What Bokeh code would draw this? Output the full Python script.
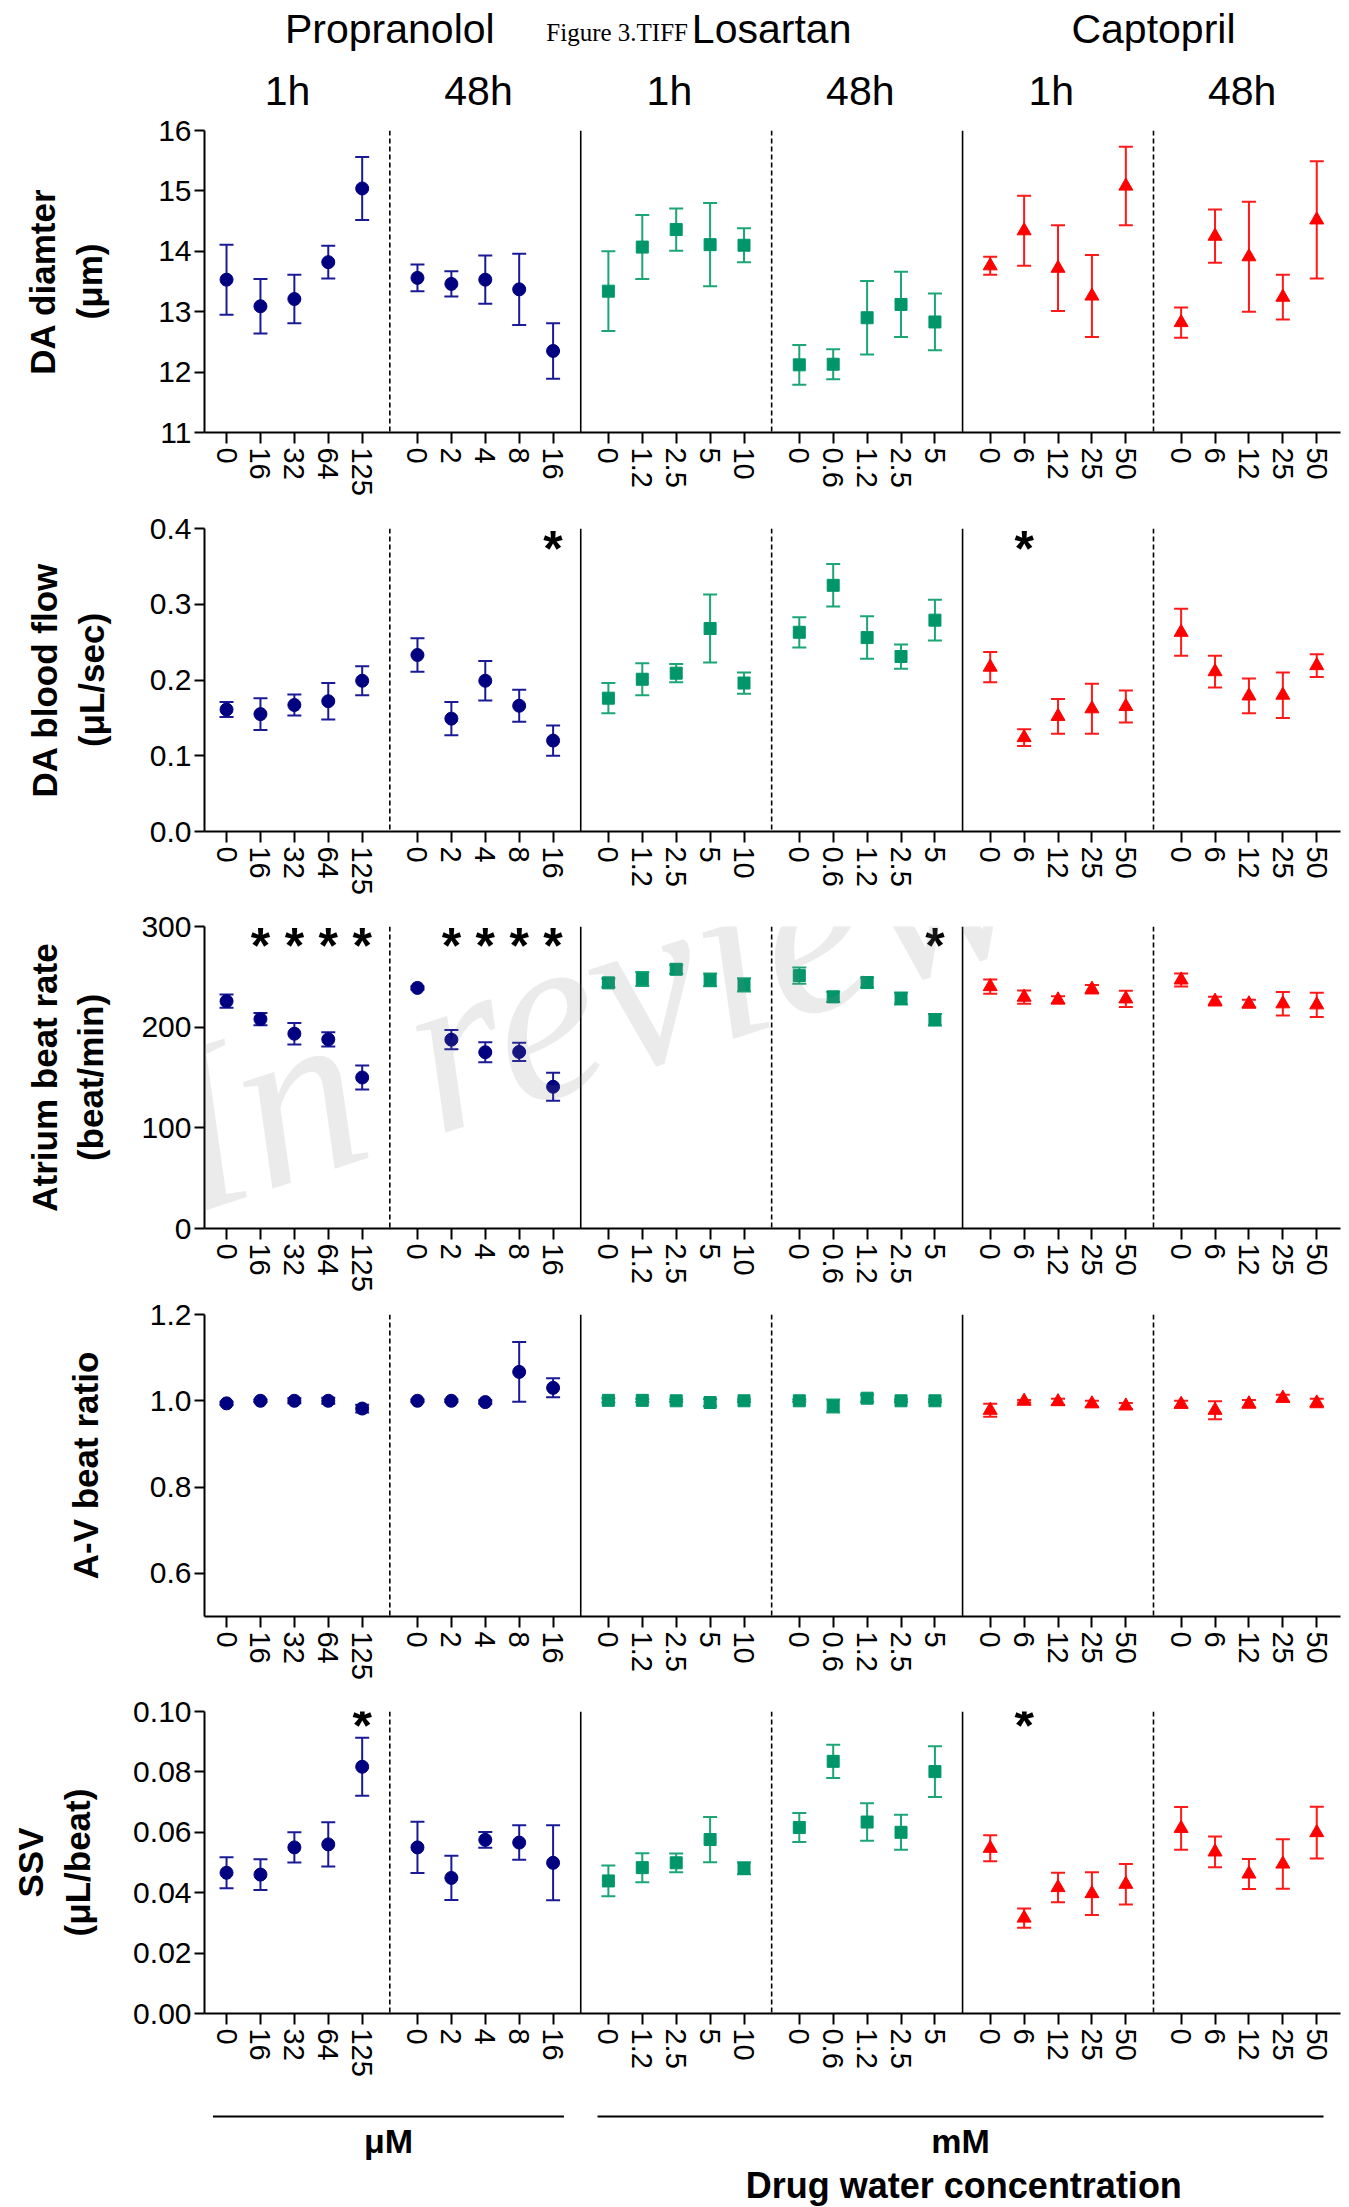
import math
from bokeh.plotting import figure
from bokeh.models import (Range1d, FixedTicker, ColumnDataSource, Whisker, TeeHead,
                          Span, Label, PrintfTickFormatter)
from bokeh.layouts import column
from bokeh.embed import file_html
from bokeh.resources import INLINE

# ---------------- data ----------------
drugs = ["Propranolol", "Losartan", "Captopril"]
times = ["1h", "48h"]
conc_labels = [
    ["0", "16", "32", "64", "125"],
    ["0", "2", "4", "8", "16"],
    ["0", "1.2", "2.5", "5", "10"],
    ["0", "0.6", "1.2", "2.5", "5"],
    ["0", "6", "12", "25", "50"],
    ["0", "6", "12", "25", "50"],
]
unit_labels = ["μM", "mM"]

diam_mean = [
    [13.53, 13.09, 13.21, 13.82, 15.04],
    [13.56, 13.46, 13.53, 13.37, 12.35],
    [13.34, 14.07, 14.36, 14.11, 14.10],
    [12.12, 12.13, 12.90, 13.12, 12.83],
    [13.76, 14.34, 13.72, 13.26, 15.08],
    [12.82, 14.25, 13.91, 13.24, 14.52],
]
diam_sem = [
    [0.58, 0.45, 0.40, 0.27, 0.52],
    [0.22, 0.21, 0.40, 0.59, 0.46],
    [0.66, 0.53, 0.35, 0.69, 0.28],
    [0.33, 0.25, 0.61, 0.54, 0.47],
    [0.15, 0.58, 0.71, 0.68, 0.65],
    [0.25, 0.44, 0.91, 0.37, 0.97],
]
diam_stars = []

flow_mean = [
    [0.161, 0.155, 0.167, 0.172, 0.199],
    [0.233, 0.149, 0.199, 0.166, 0.120],
    [0.176, 0.201, 0.209, 0.268, 0.196],
    [0.263, 0.325, 0.256, 0.231, 0.279],
    [0.217, 0.124, 0.152, 0.162, 0.165],
    [0.263, 0.211, 0.179, 0.180, 0.219],
]
flow_sem = [
    [0.010, 0.021, 0.014, 0.024, 0.019],
    [0.022, 0.022, 0.026, 0.021, 0.020],
    [0.020, 0.021, 0.012, 0.045, 0.014],
    [0.020, 0.028, 0.028, 0.016, 0.027],
    [0.020, 0.011, 0.023, 0.033, 0.021],
    [0.031, 0.021, 0.023, 0.030, 0.015],
]
flow_stars = [(1, 4), (4, 1)]

rate_mean = [
    [225.8, 208.0, 193.5, 187.9, 150.0],
    [239.0, 187.6, 175.1, 175.4, 140.8],
    [244.0, 247.9, 257.5, 246.9, 242.0],
    [251.2, 230.1, 244.3, 228.5, 207.4],
    [240.3, 229.8, 227.1, 237.7, 228.1],
    [246.9, 225.8, 223.2, 223.2, 222.2],
]
rate_sem = [
    [6.6, 6.0, 10.7, 7.0, 12.0],
    [1.5, 9.6, 10.0, 9.0, 14.0],
    [4.4, 7.0, 4.5, 6.3, 6.6],
    [8.0, 5.0, 5.0, 6.0, 5.8],
    [7.0, 6.5, 3.6, 4.2, 8.0],
    [6.5, 4.3, 4.0, 11.7, 12.0],
]
rate_stars = [(0, 1), (0, 2), (0, 3), (0, 4), (1, 1), (1, 2), (1, 3), (1, 4), (3, 4)]

ratio_mean = [
    [0.994, 1.000, 1.000, 1.000, 0.982],
    [1.000, 1.000, 0.997, 1.067, 1.030],
    [1.001, 1.001, 1.000, 0.996, 1.000],
    [1.000, 0.988, 1.006, 1.000, 1.000],
    [0.978, 0.999, 0.998, 0.993, 0.988],
    [0.992, 0.978, 0.993, 1.006, 0.995],
]
ratio_sem = [
    [0.004, 0.003, 0.006, 0.007, 0.009],
    [0.003, 0.003, 0.004, 0.069, 0.022],
    [0.005, 0.004, 0.003, 0.008, 0.003],
    [0.003, 0.015, 0.008, 0.003, 0.003],
    [0.015, 0.003, 0.007, 0.007, 0.007],
    [0.008, 0.021, 0.009, 0.008, 0.010],
]
ratio_stars = []

ssv_mean = [
    [0.0466, 0.0460, 0.0550, 0.0560, 0.0817],
    [0.0550, 0.0449, 0.0575, 0.0566, 0.0499],
    [0.0439, 0.0483, 0.0499, 0.0576, 0.0481],
    [0.0616, 0.0835, 0.0634, 0.0600, 0.0801],
    [0.0547, 0.0316, 0.0417, 0.0397, 0.0428],
    [0.0613, 0.0535, 0.0462, 0.0495, 0.0599],
]
ssv_sem = [
    [0.0051, 0.0051, 0.0050, 0.0073, 0.0096],
    [0.0085, 0.0073, 0.0026, 0.0057, 0.0124],
    [0.0051, 0.0048, 0.0031, 0.0075, 0.0020],
    [0.0048, 0.0055, 0.0062, 0.0058, 0.0084],
    [0.0043, 0.0032, 0.0049, 0.0071, 0.0067],
    [0.0071, 0.0051, 0.0050, 0.0082, 0.0086],
]
ssv_stars = [(0, 4), (4, 1)]

# ---------------- style / layout ----------------
W = 1349
LEFT = 200
FRAME_W = 1140
GROUP_STEP = 563
PT_STEP = 100
X0, X1 = -65, 3285
FONT = "Liberation Sans"

marker_color = ["#000080", "#00966a", "#ff0000"]
bar_color = ["#1a1a96", "#1ba673", "#ff1a1a"]
markers = ["circle", "square", "triangle"]
marker_size = [13, 12, 14]


def xpos(g, i):
    return g * GROUP_STEP + i * PT_STEP


def px2x(px, left=LEFT):
    return X0 + (px - left) / FRAME_W * (X1 - X0)


ticks = [xpos(g, i) for g in range(6) for i in range(5)]
overrides = {xpos(g, i): conc_labels[g][i] for g in range(6) for i in range(5)}


def make_row(mean, sem, stars, ylab, ymin, ymax, yticks, fmt, top, frame_h, bottom,
             standoff, left=LEFT, star_px=22, watermark=False):
    h = top + frame_h + bottom
    p = figure(width=W, height=h, x_range=Range1d(X0, X1), y_range=Range1d(ymin, ymax),
               output_backend="svg", toolbar_location=None, title=None,
               min_border_left=left, min_border_right=W - left - FRAME_W,
               min_border_top=top, min_border_bottom=bottom)
    p.grid.visible = False
    p.outline_line_color = None
    p.background_fill_color = "white"
    p.border_fill_color = "white"

    # x axis
    xa = p.xaxis[0]
    xa.ticker = FixedTicker(ticks=ticks)
    xa.major_label_overrides = overrides
    xa.major_label_orientation = "vertical"
    xa.major_label_text_font = FONT
    xa.major_label_text_font_size = "29px"
    xa.major_label_text_color = "black"
    xa.major_label_standoff = 4
    xa.major_tick_out = 11
    xa.major_tick_in = 0
    xa.minor_tick_out = 0
    xa.minor_tick_in = 0
    xa.axis_line_width = 2
    xa.major_tick_line_width = 2
    xa.axis_line_color = "black"
    xa.major_tick_line_color = "black"

    # y axis
    ya = p.yaxis[0]
    ya.ticker = FixedTicker(ticks=yticks)
    ya.formatter = PrintfTickFormatter(format=fmt)
    ya.major_label_text_font = FONT
    ya.major_label_text_font_size = "30px"
    ya.major_label_text_color = "black"
    ya.major_label_standoff = 3
    ya.major_tick_out = 10
    ya.major_tick_in = 0
    ya.minor_tick_out = 0
    ya.minor_tick_in = 0
    ya.axis_line_width = 2
    ya.major_tick_line_width = 2
    ya.axis_line_color = "black"
    ya.major_tick_line_color = "black"
    ya.axis_label = ylab
    ya.axis_label_text_font = FONT
    ya.axis_label_text_font_style = "bold"
    ya.axis_label_text_font_size = "35px"
    ya.axis_label_text_color = "black"
    ya.axis_label_standoff = standoff

    # separators
    for g in range(5):
        loc = xpos(g, 4) + (GROUP_STEP - 4 * PT_STEP) / 2
        dashed = g in (0, 2, 4)
        p.add_layout(Span(location=loc, dimension="height", line_color="black",
                          line_width=1.6, line_dash="5 3" if dashed else "solid"))

    # data
    for g in range(6):
        d = g // 2
        xs = [xpos(g, i) for i in range(5)]
        ys = mean[g]
        up = [m + s for m, s in zip(mean[g], sem[g])]
        lo = [m - s for m, s in zip(mean[g], sem[g])]
        src = ColumnDataSource(dict(x=xs, y=ys, upper=up, lower=lo))
        wh = Whisker(source=src, base="x", upper="upper", lower="lower", dimension="height",
                     line_color=bar_color[d], line_width=2,
                     upper_head=TeeHead(size=14, line_color=bar_color[d], line_width=2),
                     lower_head=TeeHead(size=14, line_color=bar_color[d], line_width=2))
        p.add_layout(wh)
        p.scatter("x", "y", source=src, marker=markers[d], size=marker_size[d],
                  fill_color=marker_color[d], line_color=marker_color[d])

    sy = ymax - star_px / frame_h * (ymax - ymin)
    for g, i in stars:
        p.add_layout(Label(x=xpos(g, i), y=sy, text="*", text_font=FONT,
                           text_font_style="bold", text_font_size="50px",
                           text_align="center", text_baseline="middle",
                           text_color="black"))

    if watermark:
        wm = Label(x=px2x(158), y=ymin + (ymax - ymin) * 90 / frame_h, text="In review",
                   angle=math.radians(18), text_font="Liberation Serif",
                   text_font_style="italic", text_font_size="241px",
                   text_align="left", text_baseline="alphabetic",
                   text_color="#808080", text_alpha=0.16, level="overlay")
        p.add_layout(wm)
    return p


TOP_H = 112
top = figure(width=W, height=TOP_H, x_range=Range1d(X0, X1), y_range=Range1d(TOP_H, 0),
             output_backend="svg", toolbar_location=None, title=None,
             x_axis_type=None, y_axis_type=None,
             min_border_left=LEFT, min_border_right=W - LEFT - FRAME_W,
             min_border_top=0, min_border_bottom=0)
top.grid.visible = False
top.outline_line_color = None
for d in range(3):
    cx = xpos(2 * d, 4) + (GROUP_STEP - 4 * PT_STEP) / 2
    top.add_layout(Label(x=cx, y=28, text=drugs[d], text_align="center",
                         text_baseline="middle", text_font=FONT,
                         text_font_size="41px", text_color="black"))
for g in range(6):
    cx = xpos(g, 2) - 20
    top.add_layout(Label(x=cx, y=90, text=times[g % 2], text_align="center",
                         text_baseline="middle", text_font=FONT,
                         text_font_size="41px", text_color="black"))
top.add_layout(Label(x=px2x(543), y=32, text="Figure 3.TIFF", text_align="left",
                     text_baseline="middle", text_font="Liberation Serif",
                     text_font_size="25px", text_color="black"))

r1 = make_row(diam_mean, diam_sem, diam_stars, "DA diamter\n(μm)", 11, 16,
              [11, 12, 13, 14, 15, 16], "%d", 18, 302, 66, 46)
r2 = make_row(flow_mean, flow_sem, flow_stars, "DA blood flow\n(μL/sec)", 0, 0.4,
              [0, 0.1, 0.2, 0.3, 0.4], "%.1f", 30, 303, 67, 36, star_px=20)
r3 = make_row(rate_mean, rate_sem, rate_stars, "Atrium beat rate\n(beat/min)", 0, 300,
              [0, 100, 200, 300], "%d", 28, 303, 65, 28, star_px=20, watermark=True)
r4 = make_row(ratio_mean, ratio_sem, ratio_stars, "A-V beat ratio", 0.5, 1.2,
              [0.6, 0.8, 1.0, 1.2], "%.1f", 20, 302, 74, 42, left=204)
r5 = make_row(ssv_mean, ssv_sem, ssv_stars, "SSV\n(μL/beat)", 0, 0.1,
              [0, 0.02, 0.04, 0.06, 0.08, 0.10], "%.2f", 21, 302, 67, 33, star_px=14)

BOT_H = 127
bot = figure(width=W, height=BOT_H, x_range=Range1d(X0, X1), y_range=Range1d(BOT_H, 0),
             output_backend="svg", toolbar_location=None, title=None,
             x_axis_type=None, y_axis_type=None,
             min_border_left=LEFT, min_border_right=W - LEFT - FRAME_W,
             min_border_top=0, min_border_bottom=0)
bot.grid.visible = False
bot.outline_line_color = None
seg_x0 = [xpos(0, 0) - 40, xpos(2, 0) - 32]
seg_x1 = [xpos(1, 4) + 32, xpos(5, 4) + 20]
bot.segment(x0=seg_x0, y0=[36, 36], x1=seg_x1, y1=[36, 36], line_color="black", line_width=2)
for k in range(2):
    bot.add_layout(Label(x=(seg_x0[k] + seg_x1[k]) / 2, y=60, text=unit_labels[k],
                         text_align="center", text_baseline="middle", text_font=FONT,
                         text_font_style="bold", text_font_size="34px", text_color="black"))
bot.add_layout(Label(x=px2x(962), y=105, text="Drug water concentration",
                     text_align="center", text_baseline="middle", text_font=FONT,
                     text_font_style="bold", text_font_size="36px", text_color="black"))

layout = column(top, r1, r2, r3, r4, r5, bot, spacing=0)
open("out.html", "w").write(file_html(layout, INLINE))
